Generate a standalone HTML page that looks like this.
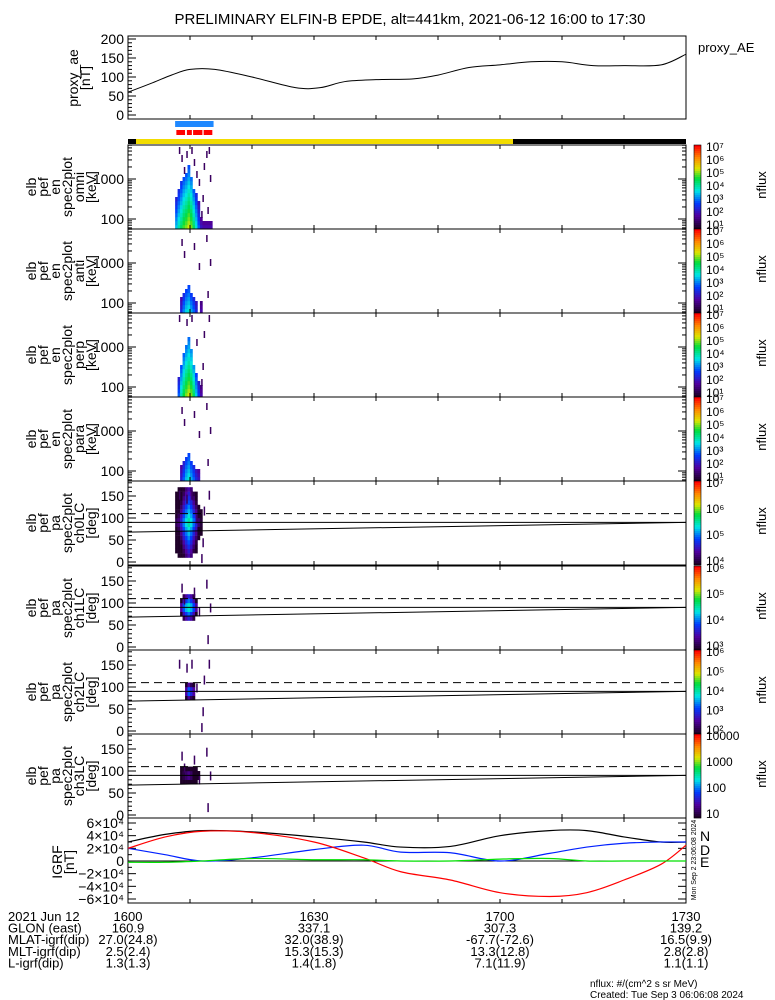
<!DOCTYPE html>
<html><head><meta charset="utf-8"><style>
body{margin:0;background:#fff}
svg{display:block}
text{font-family:"Liberation Sans",sans-serif;fill:#000}
</style></head><body>
<svg id="c" width="775" height="1000" xmlns="http://www.w3.org/2000/svg"></svg>
<script>
// ---- data ----
const aeTimes=[0,4,7,10,14,20,27,31,35,40,46,50,55,60,65,70,75,80,86,90];
const aeValues=[60,85,105,120,120,100,72,72,88,93,95,105,125,132,140,140,130,130,132,160];
const specTimes=[7.6,8.0,8.4,8.8,9.2,9.6,10.0,10.4,10.8,11.2,11.6,12.0,12.4,12.8,13.2];
const omniPeak=[3.5,4.0,4.4,4.8,5.0,5.3,5.0,4.4,3.8,3.0,2.2,2.0,2.0,2.0,2.0];
const omniCut=[2.5,2.7,2.9,3.0,3.1,3.3,3.0,2.7,2.6,2.4,2.0,1.95,1.95,1.95,1.95];
const antiPeak=[0,0,2.5,3.2,3.6,3.8,3.4,3.0,2.5,0,2.0,0,0,0,0];
const antiCut=[0,0,2.1,2.2,2.3,2.4,2.2,2.1,2.0,0,2.0,0,0,0,0];
const perpPeak=[0,3.0,4.0,4.6,5.0,5.3,5.0,4.4,3.6,2.8,2.0,0,0,0,0];
const perpCut=[0,2.2,2.5,2.8,3.0,3.2,2.9,2.5,2.3,2.1,2.0,0,0,0,0];
const paraPeak=[0,0,2.4,3.0,3.5,3.8,3.4,3.0,2.5,2.2,0,0,0,0,0];
const paraCut=[0,0,2.1,2.2,2.3,2.4,2.2,2.1,2.0,2.0,0,0,0,0,0];
const pa0Peak=[1.5,1.8,2.5,3.3,3.8,4.2,3.8,3.2,2.6,1.8,1.5,0,0,0,0];
const pa0Width=[70,75,75,75,75,75,75,72,70,40,30,0,0,0,0];
const pa1Peak=[0,0,2.5,3.3,3.8,4.2,3.8,3.2,2.5,0,0,0,0,0,0];
const pa1Width=[0,0,20,28,30,30,30,28,20,0,0,0,0,0,0];
const pa2Peak=[0,0,0,0,2.5,3.5,3.0,2.5,0,0,0,0,0,0,0];
const pa2Width=[0,0,0,0,18,20,20,18,0,0,0,0,0,0,0];
const pa3Peak=[0,0,1.5,1.8,2.0,2.2,2.0,1.6,1.5,1.2,0,0,0,0,0];
const pa3Width=[0,0,15,20,20,22,20,18,15,12,0,0,0,0,0];
const igrfTimes=[0,6,12,20,30,38,44,52,60,68,74,80,86,90];
const igrfTotal=[30000,42000,48000,46000,38000,30000,22000,23000,40000,48000,48000,38000,30000,30000];
const igrfN=[20000,10000,0,5000,18000,25000,14000,13000,0,12000,22000,28000,30000,30000];
const igrfD=[20000,38000,47000,45000,30000,5000,-17000,-30000,-50000,-56000,-50000,-30000,-5000,25000];
const igrfE=[-2000,-2000,0,4000,2000,2000,0,0,3000,4000,0,0,0,0];
const tickLabels=["1600","1630","1700","1730"];
const glon=["160.9","337.1","307.3","139.2"];
const mlat=["27.0(24.8)","32.0(38.9)","-67.7(-72.6)","16.5(9.9)"];
const mlt=["2.5(2.4)","15.3(15.3)","13.3(12.8)","2.8(2.8)"];
const lval=["1.3(1.3)","1.4(1.8)","7.1(11.9)","1.1(1.1)"];
const scatter=[[8.2,3.8],[8.6,3.6],[9.4,3.7],[10.6,3.5],[11.0,3.2],[11.4,3.0],[12.2,3.4],[12.6,3.7],[13.0,3.8],[9.0,3.3],[12.0,2.6],[13.2,3.1],[11.8,2.2],[12.8,2.3],[10.2,3.8]];
// ---- helpers ----
const NS="http://www.w3.org/2000/svg";
const svg=document.getElementById('c');
const X0=128,X1=686;
const xT=t=>X0+(X1-X0)*t/90;
function el(tag,a,parent){const e=document.createElementNS(NS,tag);for(const k in a)e.setAttribute(k,a[k]);(parent||svg).appendChild(e);return e;}
function txt(x,y,s,o){o=o||{};const e=el('text',{x:x,y:y,'font-size':o.fs||13,'text-anchor':o.a||'start',fill:o.fill||'#000'});if(o.tr)e.setAttribute('transform',o.tr);e.textContent=s;return e;}
function rainbow(v){
  const stops=[[0,[30,0,40]],[0.15,[80,0,160]],[0.3,[0,60,255]],[0.45,[0,230,230]],[0.6,[0,220,60]],[0.72,[220,230,0]],[0.85,[255,140,0]],[1,[255,0,0]]];
  v=Math.max(0,Math.min(1,v));
  for(let i=1;i<stops.length;i++){if(v<=stops[i][0]){const a=stops[i-1],b=stops[i],f=(v-a[0])/(b[0]-a[0]);return 'rgb('+a[1].map((c,j)=>Math.round(c+(b[1][j]-c)*f)).join(',')+')';}}
  return 'rgb(255,0,0)';
}
function smoothPath(P){ // Catmull-Rom through given points
  let d='M'+P[0][0]+','+P[0][1];
  for(let i=0;i<P.length-1;i++){
    const p0=P[Math.max(0,i-1)],p1=P[i],p2=P[i+1],p3=P[Math.min(P.length-1,i+2)];
    const c1=[p1[0]+(p2[0]-p0[0])/6,p1[1]+(p2[1]-p0[1])/6],c2=[p2[0]-(p3[0]-p1[0])/6,p2[1]-(p3[1]-p1[1])/6];
    d+=` C${c1[0]},${c1[1]} ${c2[0]},${c2[1]} ${p2[0]},${p2[1]}`;
  }
  return d;
}
function timeTicks(top,bot){
  for(let t=0;t<=90;t+=10){const x=xT(t);el('line',{x1:x,x2:x,y1:bot,y2:bot-4,stroke:'#000'});el('line',{x1:x,x2:x,y1:top,y2:top+4,stroke:'#000'});}
}
function ylabel(lines,cx,cy){
  const g=el('g',{transform:`translate(${cx},${cy}) rotate(-90)`});
  lines.forEach((s,i)=>{const t=el('text',{x:0,y:(i-(lines.length-1)/2)*12+4,'font-size':14,'text-anchor':'middle'},g);t.textContent=s;});
  return g;
}
// title
let e=txt(410,24,"PRELIMINARY ELFIN-B EPDE, alt=441km, 2021-06-12 16:00 to 17:30",{fs:15,a:'middle'});

// ---- AE panel ----
const aeTop=36,aeBot=119;
const yAE=v=>115-v*0.38;
el('rect',{x:X0,y:aeTop,width:X1-X0,height:aeBot-aeTop,fill:'none',stroke:'#000'});
timeTicks(aeTop,aeBot);
for(let v=0;v<=200;v+=10){el('line',{x1:X0,x2:X0+(v%50?4:8),y1:yAE(v),y2:yAE(v),stroke:'#000'});}
[0,50,100,150,200].forEach(v=>txt(124,yAE(v)+5,String(v),{a:'end',fs:14}));
let lab=ylabel(["proxy_ae","[nT]"],80,78);
e=el('path',{d:smoothPath(aeTimes.map((t,i)=>[xT(t),yAE(aeValues[i])])),fill:'none',stroke:'#000','stroke-width':1});

txt(698,52,"proxy_AE",{fs:13});
// status bars
e=el('rect',{x:xT(7.6),y:121,width:xT(13.8)-xT(7.6),height:6,fill:'#1e88ff'});
[[7.8,9.2],[9.5,10.3],[10.5,12.0],[12.2,13.6]].forEach(s=>{const r=el('rect',{x:xT(s[0]),y:130,width:xT(s[1])-xT(s[0]),height:5,fill:'#f00'});});
el('rect',{x:X0,y:139,width:X1-X0,height:5,fill:'#f2dc00'});
el('rect',{x:X0,y:139,width:8,height:5,fill:'#000'});
el('rect',{x:513,y:139,width:X1-513,height:5,fill:'#000'});
// ---- spectrogram panels ----
const panTops=[145,229,313,397,481,566,650,734];
const specCfg=[
 {n:'omni',peak:omniPeak,cut:omniCut,lab:["elb","pef","en","spec2plot","omni","[keV]"]},
 {n:'anti',peak:antiPeak,cut:antiCut,lab:["elb","pef","en","spec2plot","anti","[keV]"]},
 {n:'perp',peak:perpPeak,cut:perpCut,lab:["elb","pef","en","spec2plot","perp","[keV]"]},
 {n:'para',peak:paraPeak,cut:paraCut,lab:["elb","pef","en","spec2plot","para","[keV]"]},
 {n:'ch0LC',peak:pa0Peak,w:pa0Width,lab:["elb","pef","pa","spec2plot","ch0LC","[deg]"]},
 {n:'ch1LC',peak:pa1Peak,w:pa1Width,lab:["elb","pef","pa","spec2plot","ch1LC","[deg]"]},
 {n:'ch2LC',peak:pa2Peak,w:pa2Width,lab:["elb","pef","pa","spec2plot","ch2LC","[deg]"]},
 {n:'ch3LC',peak:pa3Peak,w:pa3Width,lab:["elb","pef","pa","spec2plot","ch3LC","[deg]"]}];
const cbLabels=[["10⁷","10⁶","10⁵","10⁴","10³","10²","10¹"],["10⁷","10⁶","10⁵","10⁴","10³","10²","10¹"],["10⁷","10⁶","10⁵","10⁴","10³","10²","10¹"],["10⁷","10⁶","10⁵","10⁴","10³","10²","10¹"],["10⁷","10⁶","10⁵","10⁴"],["10⁶","10⁵","10⁴","10³"],["10⁶","10⁵","10⁴","10³","10²"],["10000","1000","100","10"]];
const colW=xT(0.4)-xT(0);
specCfg.forEach((cfg,p)=>{
  const top=panTops[p],bot=top+84;
  const g=el('g',{});
  if(p<4){
    const yE=l=>top+74-(l-2)*40;
    specTimes.forEach((t,i)=>{
      if(!cfg.peak[i])return;
      const x=xT(t);
      for(let l=1.75;l<cfg.cut[i];l+=0.1){
        const v=cfg.peak[i]-(l-1.75)*1.6;
        el('rect',{x:x,y:yE(l+0.1),width:colW+0.3,height:4.2,fill:rainbow((v-1)/6)},g);
      }
    });
    scatter.forEach((s,k)=>{if((k+p)%(p?2:1))return;el('rect',{x:xT(s[0]),y:yE(s[1]),width:1.5,height:7,fill:'#3a0060'},g);});
    el('rect',{x:X0,y:top,width:X1-X0,height:84,fill:'none',stroke:'#000'});
    [[2,'100'],[3,'1000']].forEach(a=>txt(124,yE(a[0])+5,a[1],{a:'end',fs:14}));
    for(let d=1;d<=3;d++)for(let m=1;m<10;m++){const l=d+Math.log10(m);const y=yE(l);if(y<top||y>bot)continue;el('line',{x1:X0,x2:X0+(m==1?8:4),y1:y,y2:y,stroke:'#000'});el('line',{x1:X1,x2:X1-(m==1?8:4),y1:y,y2:y,stroke:'#000'});}
  } else {
    const yP=a=>top+81-a*0.44;
    specTimes.forEach((t,i)=>{
      if(!cfg.peak[i])return;
      const x=xT(t);
      for(let a=0;a<180;a+=10){
        const d=Math.abs(a+5-90);
        if(d>cfg.w[i])continue;
        const v=cfg.peak[i]-d/cfg.w[i]*2.2;
        el('rect',{x:x,y:yP(a+10),width:colW+0.3,height:4.6,fill:rainbow((v-1)/6)},g);
      }
    });
    scatter.forEach((s,k)=>{if((k+p)%2)return;el('rect',{x:xT(s[0]),y:yP((s[1]-2)*90),width:1.5,height:9,fill:'#3a0060'},g);});
    el('rect',{x:X0,y:top,width:X1-X0,height:84,fill:'none',stroke:'#000'});
    [0,50,100,150].forEach(a=>txt(124,yP(a)+5,String(a),{a:'end',fs:14}));
    for(let a=0;a<=180;a+=10){el('line',{x1:X0,x2:X0+(a%50?4:8),y1:yP(a),y2:yP(a),stroke:'#000'});}
    el('line',{x1:X0,x2:X1,y1:yP(110),y2:yP(110),stroke:'#000','stroke-dasharray':'8,5'});
    el('line',{x1:X0,x2:X1,y1:yP(90),y2:yP(90),stroke:'#000'});
    el('line',{x1:X0,x2:X1,y1:yP(68),y2:yP(90),stroke:'#000'});
  }
  timeTicks(top,bot);
  ylabel(cfg.lab,62,top+42);
  const cb=el('g',{});
  for(let k=0;k<42;k++)el('rect',{x:694,y:top+k*2,width:7,height:2.2,fill:rainbow(1-k/41)},cb);
  el('rect',{x:694,y:top,width:7,height:84,fill:'none',stroke:'#000','stroke-width':0.6},cb);
  const L=cbLabels[p];
  L.forEach((s,k)=>txt(706,top+6+k*(78/(L.length-1||1)),s,{fs:12}));
  txt(0,0,"nflux",{fs:13,a:'middle',tr:`translate(766,${top+40}) rotate(-90)`});
});
// ---- IGRF panel ----
const gTop=818,gBot=903;
const yG=v=>861-v*38/60000;
el('rect',{x:X0,y:gTop,width:X1-X0,height:gBot-gTop,fill:'none',stroke:'#000'});
timeTicks(gTop,gBot);
for(let v=-60000;v<=60000;v+=10000){el('line',{x1:X0,x2:X0+(v%20000?4:8),y1:yG(v),y2:yG(v),stroke:'#000'});el('line',{x1:X1,x2:X1-(v%20000?4:8),y1:yG(v),y2:yG(v),stroke:'#000'});}
[["6×10⁴",60000],["4×10⁴",40000],["2×10⁴",20000],["0",0],["−2×10⁴",-20000],["−4×10⁴",-40000],["−6×10⁴",-60000]].forEach(a=>txt(124,yG(a[1])+5,a[0],{a:'end',fs:14}));
el('line',{x1:X0,x2:X1,y1:yG(0),y2:yG(0),stroke:'#000'});
ylabel(["IGRF","[nT]"],64,862);
[[igrfTotal,'#000','igrf-total-line'],[igrfN,'#0020ff','igrf-n-line'],[igrfD,'#ff0000','igrf-d-line'],[igrfE,'#00e000','igrf-e-line']].forEach(s=>{
  const l=el('path',{d:smoothPath(igrfTimes.map((t,i)=>[xT(t),yG(s[0][i])])),fill:'none',stroke:s[1],'stroke-width':1.2});
  
});
txt(700,841,"N",{fill:'#0020ff',fs:14});txt(700,855,"D",{fill:'#ff0000',fs:14});txt(700,867,"E",{fill:'#00e000',fs:14});
txt(0,0,"Mon Sep  2 23:06:08 2024",{fs:7,a:'middle',tr:'translate(696,860) rotate(-90)'});
// ---- bottom annotation ----
const rows=[["2021 Jun 12",tickLabels],["GLON (east)",glon],["MLAT-igrf(dip)",mlat],["MLT-igrf(dip)",mlt],["L-igrf(dip)",lval]];
rows.forEach((r,i)=>{
  const y=921+i*11.6;
  txt(8,y,r[0],{fs:13});
  r[1].forEach((s,k)=>txt(xT(k*30),y,s,{fs:13,a:'middle'}));
});
txt(590,987,"nflux: #/(cm^2 s sr MeV)",{fs:10});
txt(590,998,"Created: Tue Sep  3 06:06:08 2024",{fs:10});
</script>
</body></html>
